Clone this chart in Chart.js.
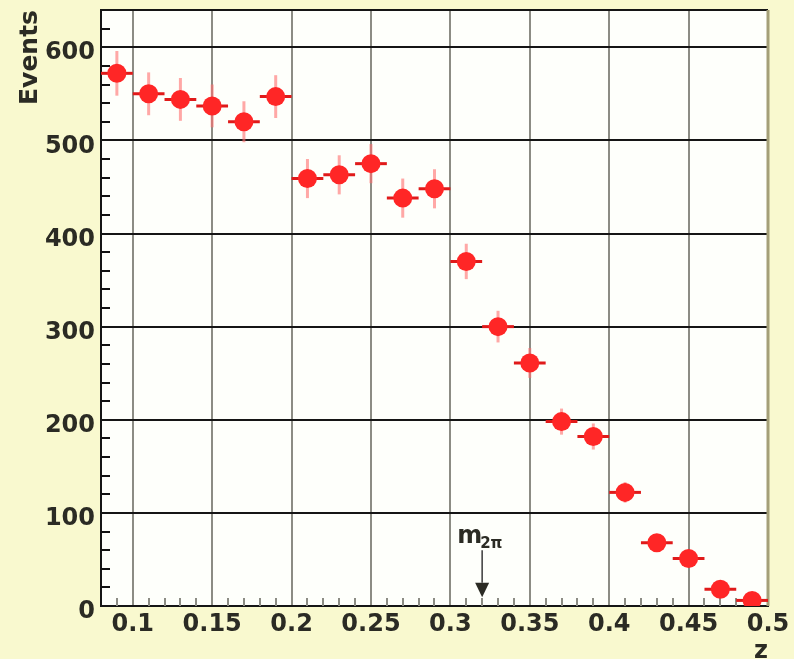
<!DOCTYPE html>
<html>
<head>
<meta charset="utf-8">
<script src="https://cdn.jsdelivr.net/npm/chart.js@4.4.1/dist/chart.umd.min.js"></script>
<style>
  html, body { margin: 0; padding: 0; background: #f9f9cf; }
  #wrap { width: 794px; height: 659px; }
</style>
</head>
<body>
<div id="wrap"><canvas id="zChart" width="794" height="659"></canvas></div>
<script>
// bin centres (z) and counts
const zBins = [0.09, 0.11, 0.13, 0.15, 0.17, 0.19, 0.21, 0.23, 0.25, 0.27, 0.29,
               0.31, 0.33, 0.35, 0.37, 0.39, 0.41, 0.43, 0.45, 0.47, 0.49];
const events = [572, 550, 544, 537, 520, 547, 459, 463, 475, 438, 448,
                370, 300, 261, 198, 182, 122, 68, 51, 18, 6];
const eventErr = [24, 23, 23, 23, 22, 23, 21, 21, 21, 21, 21,
                  19, 17, 16, 14, 14, 11, 8, 7, 4, 2];
const binHalf = [0.01, 0.01, 0.01, 0.01, 0.01, 0.01, 0.01, 0.01, 0.01, 0.01, 0.01,
                 0.01, 0.01, 0.01, 0.01, 0.01, 0.01, 0.01, 0.01, 0.01, 0.01];

const xTicks = [0.1, 0.15, 0.2, 0.25, 0.3, 0.35, 0.4, 0.45, 0.5];
const yTicks = [0, 100, 200, 300, 400, 500, 600];

// m_2pi threshold marker
const markAt = 0.32;
const markText = 'm';
const markSub = '2π';

const inkColor = '#2b2b24';
const fontFam = '"DejaVu Sans", Verdana, sans-serif';

const bgPlugin = {
    id: 'bg',
    beforeDraw(chart) {
        const { ctx, chartArea: a } = chart;
        ctx.save();
        ctx.fillStyle = '#f9f9cf';
        ctx.fillRect(0, 0, chart.width, chart.height);
        ctx.fillStyle = '#fefffb';
        ctx.fillRect(a.left, a.top, a.right - a.left, a.bottom - a.top);
        ctx.restore();
    }
};

const framePlugin = {
    id: 'frame',
    beforeDatasetsDraw(chart) {
        const { ctx, chartArea: a, scales: { x, y } } = chart;
        ctx.save();
        // minor ticks on y
        ctx.strokeStyle = '#111';
        ctx.lineWidth = 2;
        for (let v = 20; v < 640; v += 20) {
            if (v % 100 === 0) continue;
            const py = Math.round(y.getPixelForValue(v));
            ctx.beginPath();
            ctx.moveTo(a.left, py);
            ctx.lineTo(a.left + 9, py);
            ctx.stroke();
        }
        // minor ticks on x
        ctx.strokeStyle = '#8c8c84';
        for (let k = 9; k < 50; k++) {
            if (k % 5 === 0) continue;
            const px = Math.round(x.getPixelForValue(k / 100));
            ctx.beginPath();
            ctx.moveTo(px, a.bottom);
            ctx.lineTo(px, a.bottom - 8);
            ctx.stroke();
        }
        // top and right frame
        ctx.strokeStyle = '#151515';
        ctx.beginPath();
        ctx.moveTo(a.left, a.top);
        ctx.lineTo(a.right, a.top);
        ctx.stroke();
        ctx.strokeStyle = '#a49f78';
        ctx.lineWidth = 3;
        ctx.beginPath();
        ctx.moveTo(a.right, a.top);
        ctx.lineTo(a.right, a.bottom);
        ctx.stroke();

        // error bars, under the markers
        ctx.lineWidth = 3;
        zBins.forEach((z, i) => {
            const px = x.getPixelForValue(z);
            const py = y.getPixelForValue(events[i]);
            ctx.strokeStyle = 'rgba(255, 110, 110, 0.6)';
            ctx.beginPath();
            ctx.moveTo(px, y.getPixelForValue(events[i] - eventErr[i]));
            ctx.lineTo(px, y.getPixelForValue(events[i] + eventErr[i]));
            ctx.stroke();
            ctx.strokeStyle = '#e01a1a';
            ctx.beginPath();
            ctx.moveTo(x.getPixelForValue(z - binHalf[i]), py);
            ctx.lineTo(x.getPixelForValue(z + binHalf[i]), py);
            ctx.stroke();
        });
        ctx.restore();
    }
};

const markPlugin = {
    id: 'mark',
    afterDraw(chart) {
        const { ctx, scales: { x, y } } = chart;
        const ax = x.getPixelForValue(markAt);
        ctx.save();
        ctx.fillStyle = inkColor;
        ctx.font = 'bold 24px ' + fontFam;
        ctx.textAlign = 'right';
        ctx.textBaseline = 'alphabetic';
        ctx.fillText(markText, ax, y.getPixelForValue(68));
        ctx.font = 'bold 15px ' + fontFam;
        ctx.textAlign = 'left';
        ctx.fillText(markSub, ax - 2, y.getPixelForValue(62));
        // arrow
        const top = y.getPixelForValue(60);
        const headTop = y.getPixelForValue(25);
        const tip = y.getPixelForValue(9.5);
        ctx.strokeStyle = '#3a3a3a';
        ctx.lineWidth = 1.5;
        ctx.beginPath();
        ctx.moveTo(ax, top);
        ctx.lineTo(ax, headTop);
        ctx.stroke();
        ctx.beginPath();
        ctx.moveTo(ax - 7, headTop);
        ctx.lineTo(ax + 7, headTop);
        ctx.lineTo(ax, tip);
        ctx.closePath();
        ctx.fill();
        ctx.restore();
    }
};

const ctx = document.getElementById('zChart').getContext('2d');
const zChart = new Chart(ctx, {
    type: 'scatter',
    data: {
        datasets: [{
            label: 'Events',
            data: zBins.map((z, i) => ({ x: z, y: events[i] })),
            pointRadius: 9.5,
            pointHoverRadius: 9.5,
            pointBackgroundColor: '#ff2626',
            pointBorderWidth: 0,
            showLine: false
        }]
    },
    options: {
        responsive: false,
        animation: false,
        devicePixelRatio: 1,
        layout: { padding: { top: 10, right: 26, left: 0, bottom: 0 } },
        plugins: { legend: { display: false }, tooltip: { enabled: false } },
        scales: {
            x: {
                type: 'linear',
                min: 0.08,
                max: 0.5,
                afterBuildTicks: s => { s.ticks = xTicks.map(v => ({ value: v })); },
                afterFit: s => { s.height = 53; s.paddingLeft = 0; s.paddingRight = 0; },
                ticks: {
                    callback: v => String(+v.toFixed(2)),
                    font: { family: fontFam, size: 24, weight: 'bold' },
                    color: inkColor,
                    padding: 4,
                    maxRotation: 0,
                    autoSkip: false
                },
                grid: { color: '#8c8c84', lineWidth: 2, drawTicks: false },
                border: { color: '#151515', width: 2 },
                title: {
                    display: true,
                    text: 'z',
                    align: 'end',
                    color: inkColor,
                    font: { family: fontFam, size: 24, weight: 'bold', lineHeight: 1 },
                    padding: { top: 0, bottom: -5 }
                }
            },
            y: {
                min: 0,
                max: 640,
                afterBuildTicks: s => { s.ticks = yTicks.map(v => ({ value: v })); },
                afterFit: s => { s.width = 101; s.paddingTop = 0; s.paddingBottom = 0; },
                ticks: {
                    font: { family: fontFam, size: 24, weight: 'bold' },
                    color: inkColor,
                    padding: 6,
                    labelOffset: 6
                },
                grid: { color: '#151515', lineWidth: 2, drawTicks: false },
                border: { color: '#151515', width: 2 },
                title: {
                    display: true,
                    text: 'Events',
                    align: 'end',
                    color: inkColor,
                    font: { family: fontFam, size: 25, weight: 'bold' },
                    padding: { top: 15, bottom: 0 }
                }
            }
        }
    },
    plugins: [bgPlugin, framePlugin, markPlugin]
});
</script>
</body>
</html>
